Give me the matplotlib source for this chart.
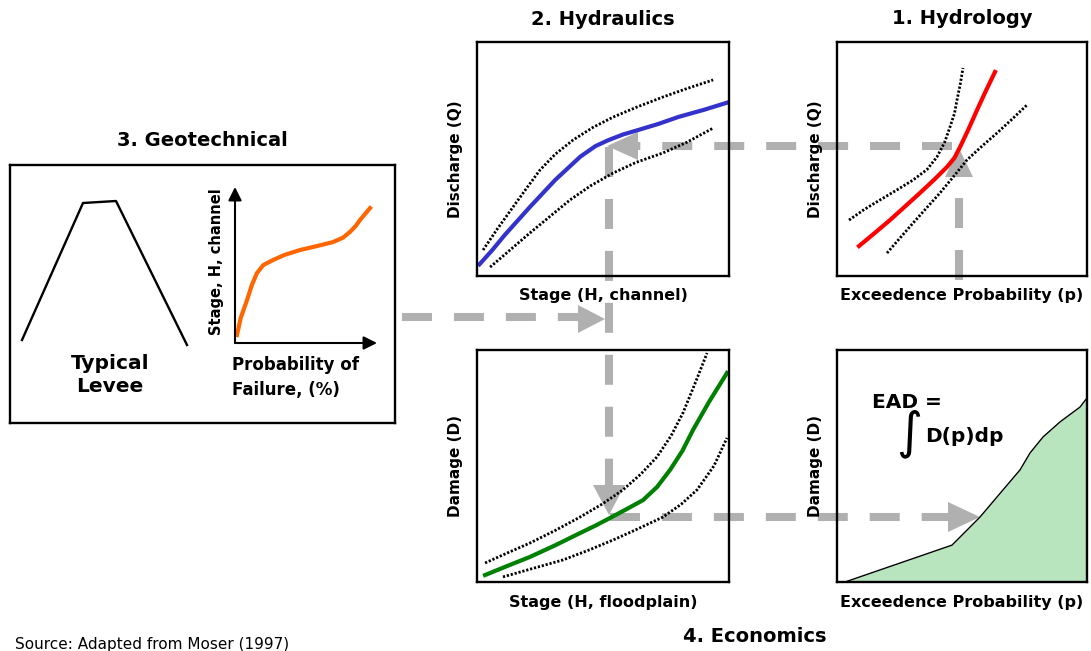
import matplotlib.pyplot as plt
from matplotlib.patches import Polygon

W, H = 1091, 651
GRAY = '#b0b0b0'

# --- curve data (each panel on a 0-100 scale) ---
# 2. Hydraulics: discharge vs channel stage
rating_x = [1, 6, 11, 21, 31, 41, 47, 52, 58, 64, 72, 80, 90, 99]
rating_y = [5, 11, 17.5, 29.5, 41, 51, 55.5, 58, 60.5, 62.4, 65, 68, 71, 74]
rating_hi_x = [2.4, 8, 14.3, 20, 25, 31, 38.1, 46, 54, 63, 73.8, 83, 93.7]
rating_hi_y = [11.1, 20, 29.5, 38, 45.3, 52, 58.1, 63.5, 67.9, 72, 76.5, 80, 83.8]
rating_lo_x = [5.2, 13, 21, 29, 36.9, 45, 54, 63, 73.8, 83, 93.7]
rating_lo_y = [3.8, 11, 18.4, 25.5, 32.5, 38.5, 44, 48.5, 52.6, 57, 63.2]

# 1. Hydrology: discharge vs exceedence probability
freq_x = [8.8, 15, 21.2, 27, 33.2, 39, 44, 47, 49.2, 52.5, 56, 59.5, 63.2]
freq_y = [12.8, 18.3, 23.9, 29.5, 35.5, 41.3, 46.6, 50.5, 55.1, 62.5, 70.9, 79, 87.2]
freq_hi_x = [4.8, 11, 17.2, 24, 30.4, 36, 40, 43, 45.2, 47, 48, 49.3, 50.4]
freq_hi_y = [23.9, 28.5, 32.5, 36.8, 41, 45.5, 50.9, 57, 63.7, 69.5, 75.2, 82, 88.9]
freq_lo_x = [20, 25, 30.4, 36, 41.2, 47, 52, 58, 64, 70, 76]
freq_lo_y = [9.8, 16, 22.6, 29.3, 35.5, 43, 49.6, 55.5, 61.1, 67, 73.1]

# 4. Damage vs floodplain stage
damage_x = [3.2, 12, 21, 31, 40.9, 47, 52.8, 59, 65.9, 71.5, 76.6, 81.5, 85.7, 92, 99.2]
damage_y = [3, 6.9, 10.8, 15.8, 21.1, 24.3, 27.6, 31.2, 35.3, 41, 48.3, 56.5, 65.5, 77.5, 90.1]
damage_hi_x = [3.2, 12, 21, 31, 40.9, 50, 57.9, 65, 71.4, 77, 81.7, 86.5, 91.3]
damage_hi_y = [8.2, 12.5, 16.8, 22.2, 28, 33.8, 39.7, 46.5, 53.9, 63, 72.8, 85.5, 98.7]
damage_lo_x = [10.3, 22, 34.1, 44, 54, 64, 73.8, 81, 87.3, 94, 99.2]
damage_lo_y = [2.2, 5.8, 9.5, 13.6, 18.1, 23, 28, 33.5, 39.7, 50, 62.1]

# Economics: damage-probability curve (shaded area = EAD)
ead_x = [3.2, 46, 57.2, 66.4, 73.2, 77.2, 82.4, 89.2, 97.2, 100]
ead_y = [0, 15.9, 28, 39.7, 48.3, 55.6, 62.5, 69, 75.4, 79.3]

# 3. Geotechnical: fragility curve and levee profile
frag_x = [1.4, 4, 8.5, 12, 15.5, 20, 26.8, 35, 45.8, 58, 69, 76, 81, 85, 88, 95.1]
frag_y = [5.1, 16, 27.6, 37.5, 44.9, 50, 53.2, 56.5, 59.6, 62.2, 64.7, 67.5, 71.2, 75, 78.8, 86.5]
levee_x = [12, 73, 106, 177]
levee_y = [83, 220, 222, 78]

plt.rcParams['lines.scale_dashes'] = False
plt.rcParams['font.family'] = ['DejaVu Sans']
plt.rcParams['font.weight'] = 'bold'

fig = plt.figure(figsize=(W / 100, H / 100), dpi=100)


def px_rect(x0, y0, x1, y1):
    return [x0 / W, 1 - y1 / H, (x1 - x0) / W, (y1 - y0) / H]


# overlay in pixel units for the flow arrows and free text
ax0 = fig.add_axes([0, 0, 1, 1], zorder=0)
ax0.set_xlim(0, W)
ax0.set_ylim(H, 0)
ax0.axis('off')


def make_panel(box, title=None, xlabel=None, ylabel=None, lim=(0, 100, 0, 100), tpad=6):
    ax = fig.add_axes(px_rect(*box), zorder=1)
    ax.set_facecolor('none')
    ax.set_xlim(lim[0], lim[1])
    ax.set_ylim(lim[2], lim[3])
    ax.set_xticks([])
    ax.set_yticks([])
    for s in ax.spines.values():
        s.set_linewidth(1.7)
    if title:
        ax.set_title(title, fontsize=14, fontweight='bold', pad=tpad)
    if xlabel:
        ax.set_xlabel(xlabel, fontsize=11.5, fontweight='bold', labelpad=9)
    if ylabel:
        ax.set_ylabel(ylabel, fontsize=11, fontweight='bold', labelpad=10)
    return ax


dot = dict(color='black', lw=2, linestyle=(0, (1.6, 1.3)))

# 2. Hydraulics
ax = make_panel((477, 42, 729, 276), '2. Hydraulics', 'Stage (H, channel)', 'Discharge (Q)',
                tpad=12)
ax.plot(rating_hi_x, rating_hi_y, **dot)
ax.plot(rating_lo_x, rating_lo_y, **dot)
ax.plot(rating_x, rating_y, color='#3333cc', lw=3)

# 1. Hydrology
ax = make_panel((837, 42, 1087, 276), '1. Hydrology', 'Exceedence Probability (p)',
                'Discharge (Q)', tpad=13)
ax.plot(freq_hi_x, freq_hi_y, **dot)
ax.plot(freq_lo_x, freq_lo_y, **dot)
ax.plot(freq_x, freq_y, color='red', lw=3)

# Damage
ax = make_panel((477, 350, 729, 582), None, 'Stage (H, floodplain)', 'Damage (D)')
ax.plot(damage_hi_x, damage_hi_y, **dot)
ax.plot(damage_lo_x, damage_lo_y, **dot)
ax.plot(damage_x, damage_y, color='#008000', lw=3)

# EAD
ax = make_panel((837, 350, 1087, 582), None, 'Exceedence Probability (p)', 'Damage (D)')
ax.fill_between(ead_x, ead_y, 0, color='#b8e4be', lw=0)
ax.plot(ead_x, ead_y, color='black', lw=1)
ax.text(0.14, 0.75, 'EAD =', transform=ax.transAxes, fontsize=14.5, fontweight='bold')
ax.text(0.29, 0.64, '\u222b', transform=ax.transAxes, fontsize=36, fontweight='normal',
        ha='center', va='center')
ax.text(0.352, 0.603, 'D(p)dp', transform=ax.transAxes, fontsize=14.5, fontweight='bold')

# 3. Geotechnical
ax = make_panel((10, 165, 395, 423), None, lim=(0, 385, 0, 258))
ax.set_title('3. Geotechnical', fontsize=14, fontweight='bold', pad=14)
ax.plot(levee_x, levee_y, color='black', lw=1.7)
ax.text(110 - 10, 423 - 375, 'Typical\nLevee', ha='center', va='center',
        fontsize=14.5, fontweight='bold', linespacing=1.25)

axf = fig.add_axes(px_rect(235, 187, 377, 343), zorder=2)
axf.set_facecolor('none')
axf.set_xlim(0, 100)
axf.set_ylim(0, 100)
axf.axis('off')
arrow = dict(arrowstyle='-|>', lw=1.5, color='black', mutation_scale=20, shrinkA=0, shrinkB=0)
axf.annotate('', xy=(1, 0), xytext=(0, 0), xycoords='axes fraction', arrowprops=arrow)
axf.annotate('', xy=(0, 1), xytext=(0, 0), xycoords='axes fraction', arrowprops=arrow)
axf.plot(frag_x, frag_y, color='#ff6600', lw=3, clip_on=False)
axf.text(-0.127, 0.52, 'Stage, H, channel', transform=axf.transAxes, rotation=90,
         ha='center', va='center', fontsize=10.5, fontweight='bold')
axf.text(-0.02, -0.085, 'Probability of\nFailure, (%)', transform=axf.transAxes,
         ha='left', va='top', fontsize=12, fontweight='bold', linespacing=1.45)

# --- flow arrows (dashed gray) ---
dash = dict(color=GRAY, lw=5.8, linestyle=(0, (21.6, 15.8)), dash_capstyle='butt')
flow_lines = [
    ((959, 280), (959, 177)),
    ((952, 146), (638, 146)),
    ((609, 147), (609, 485)),
    ((610, 517), (948, 517)),
    ((402, 317), (578, 317)),
]
for (xa, ya), (xb, yb) in flow_lines:
    ax0.plot([xa, xb], [ya, yb], **dash)

heads = [
    [(959, 148), (945, 177), (973, 177)],
    [(607, 146), (638, 132), (638, 160)],
    [(609, 515), (593, 485), (625, 485)],
    [(980, 517), (948, 502), (948, 532)],
    [(605, 319), (578, 305), (578, 333)],
]
for tri in heads:
    ax0.add_patch(Polygon(tri, closed=True, facecolor=GRAY, edgecolor='none'))

ax0.text(755, 636, '4. Economics', ha='center', va='center', fontsize=14, fontweight='bold')
ax0.text(15, 649, 'Source: Adapted from Moser (1997)', ha='left', va='baseline',
         fontsize=11, fontweight='normal')

fig.savefig('out.png', dpi=100)
